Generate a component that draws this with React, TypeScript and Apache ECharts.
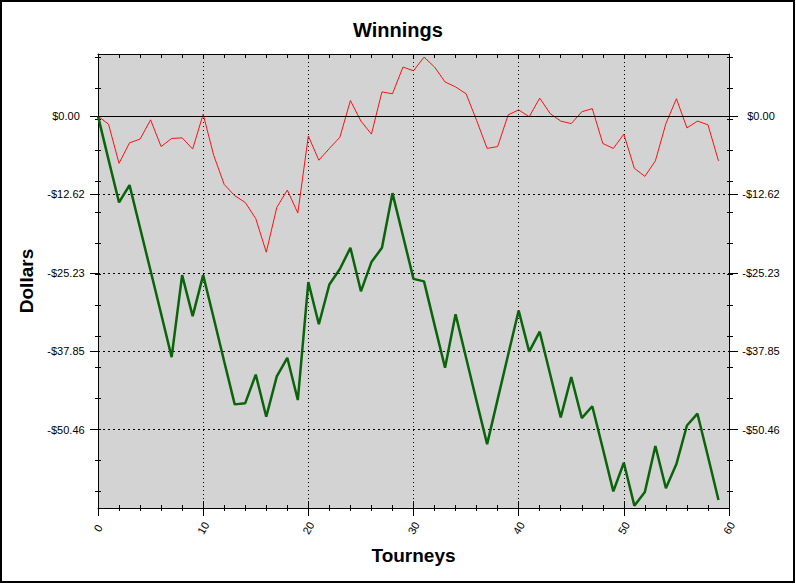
import React, { useEffect, useRef } from 'react';
import * as echarts from 'echarts';

const tourneys = [
  0, 1, 2, 3, 4, 5, 6, 7, 8, 9, 10, 11, 12, 13, 14, 15, 16, 17, 18, 19,
  20, 21, 22, 23, 24, 25, 26, 27, 28, 29, 30, 31, 32, 33, 34, 35, 36, 37, 38, 39,
  40, 41, 42, 43, 44, 45, 46, 47, 48, 49, 50, 51, 52, 53, 54, 55, 56, 57, 58, 59,
];

const redValues = [
  0, -1.3, -7.6, -4.3, -3.7, -0.6, -4.9, -3.6, -3.5, -5.3,
  0.3, -6.3, -11.0, -12.8, -13.9, -16.5, -21.9, -14.7, -11.9, -15.6,
  -3.2, -7.1, -5.2, -3.4, 2.5, -0.8, -2.9, 3.9, 3.6, 7.9,
  7.3, 9.5, 7.9, 5.5, 4.7, 3.6, -0.7, -5.2, -4.9, 0.2,
  1.0, -0.1, 2.9, 0.4, -0.8, -1.2, 0.7, 1.2, -4.4, -5.2,
  -2.9, -8.4, -9.7, -7.2, -1.2, 2.8, -1.9, -0.8, -1.4, -7.2,
];

const greenValues = [
  0, -7.0, -13.9, -11.1, -18.0, -24.9, -31.8, -38.8, -25.6, -32.2,
  -25.6, -32.5, -39.5, -46.4, -46.2, -41.6, -48.4, -41.9, -38.9, -45.7,
  -26.7, -33.5, -27.1, -24.6, -21.2, -28.2, -23.5, -21.2, -12.4, -19.3,
  -26.2, -26.6, -33.6, -40.5, -31.9, -38.9, -45.9, -52.8, -45.6, -38.4,
  -31.3, -37.9, -34.7, -41.6, -48.5, -42.0, -48.6, -46.7, -53.5, -60.4,
  -55.8, -62.7, -60.5, -53.1, -59.9, -56.0, -49.8, -47.9, -54.8, -61.8,
];

const yLabelValues = [0, -12.616, -25.232, -37.848, -50.464];
const yMinorTicks = [
  9.54, 4.54, -0.46, -5.46, -10.46, -15.46, -20.46, -25.46,
  -30.46, -35.46, -40.46, -45.46, -50.46, -55.46, -60.46,
];

const Y_MIN = -63.08;
const Y_MAX = 10;
const Y_STEP = 12.616;

const FONT = 'Arial, "Liberation Sans", sans-serif';

const fmtDollar = (v: number) => {
  if (v < -60 || v > 5) return '';
  const a = Math.abs(v) < 1e-6 ? 0 : v;
  return (a < 0 ? '-' : '') + '$' + Math.abs(a).toFixed(2);
};

const hidden = { show: false };

function yTickAxis(position: 'left' | 'right', offset: number, length: number, values: number[]) {
  return {
    type: 'value',
    position,
    offset,
    min: Y_MIN,
    max: Y_MAX,
    interval: Y_STEP,
    axisLine: { show: false, onZero: false },
    axisTick: { show: true, length, customValues: values, lineStyle: { color: '#000', width: 1 } },
    axisLabel: hidden,
    splitLine: hidden,
  };
}

function xTickAxis(position: 'top' | 'bottom', offset: number, length: number, interval: number, inside: boolean, line: boolean) {
  return {
    type: 'value',
    position,
    offset,
    min: 0,
    max: 60,
    interval,
    axisLine: { show: line, onZero: false, lineStyle: { color: '#000', width: 1 } },
    axisTick: { show: true, inside, length, lineStyle: { color: '#000', width: 1 } },
    axisLabel: hidden,
    splitLine: hidden,
  };
}

const labelStyle = { color: '#000', fontSize: 11, fontFamily: FONT };

const option = {
  animation: false,
  backgroundColor: '#ffffff',
  title: {
    text: 'Winnings',
    left: 'center',
    top: 15,
    textStyle: { fontSize: 20, fontWeight: 'bold', fontFamily: FONT, color: '#000' },
  },
  graphic: [
    {
      type: 'rect',
      silent: true,
      z: 100,
      shape: { x: 1, y: 1, width: 793, height: 581 },
      style: { fill: 'none', stroke: '#000', lineWidth: 2 },
    },
  ],
  grid: {
    left: 98,
    top: 54,
    right: 67,
    bottom: 76,
    show: true,
    backgroundColor: '#d3d3d3',
    borderWidth: 0,
  },
  xAxis: [
    {
      type: 'value',
      position: 'bottom',
      min: 0,
      max: 60,
      interval: 10,
      name: 'Tourneys',
      nameLocation: 'middle',
      nameGap: 38,
      nameTextStyle: { fontSize: 19, fontWeight: 'bold', fontFamily: FONT, color: '#000' },
      axisLine: { show: true, onZero: false, lineStyle: { color: '#000', width: 1 } },
      axisTick: { show: false },
      axisLabel: {
        ...labelStyle,
        rotate: 60,
        align: 'center',
        verticalAlign: 'middle',
        margin: 20,
      },
      splitLine: { show: true, lineStyle: { color: '#000', type: [1, 3], width: 1 } },
    },
    xTickAxis('bottom', -7, 15, 10, false, false),
    xTickAxis('bottom', -3, 6, 2, false, false),
    xTickAxis('top', 0, 4, 2, true, true),
  ],
  yAxis: [
    {
      type: 'value',
      position: 'left',
      min: Y_MIN,
      max: Y_MAX,
      interval: Y_STEP,
      name: 'Dollars',
      nameLocation: 'middle',
      nameGap: 61,
      nameTextStyle: { fontSize: 19, fontWeight: 'bold', fontFamily: FONT, color: '#000' },
      axisLine: { show: true, onZero: false, lineStyle: { color: '#000', width: 1 } },
      axisTick: { show: true, length: 8, customValues: yLabelValues, lineStyle: { color: '#000', width: 1 } },
      axisLabel: { ...labelStyle, customValues: yLabelValues, formatter: fmtDollar, align: 'center', margin: 32 },
      splitLine: { show: true, lineStyle: { color: '#000', type: [2, 3], width: 1 } },
    },
    yTickAxis('left', -3, 6, yMinorTicks),
    {
      type: 'value',
      position: 'right',
      min: Y_MIN,
      max: Y_MAX,
      interval: Y_STEP,
      axisLine: { show: true, onZero: false, lineStyle: { color: '#000', width: 1 } },
      axisTick: { show: true, length: 9, customValues: yLabelValues, lineStyle: { color: '#000', width: 1 } },
      axisLabel: { ...labelStyle, customValues: yLabelValues, formatter: fmtDollar, align: 'center', margin: 32 },
      splitLine: hidden,
    },
    yTickAxis('right', -2, 6, yMinorTicks),
  ],
  series: [
    {
      name: 'Red',
      type: 'line',
      xAxisIndex: 0,
      yAxisIndex: 0,
      data: tourneys.map((t, i) => [t, redValues[i]]),
      symbol: 'none',
      showSymbol: false,
      lineStyle: { color: '#ff1010', width: 1 },
      itemStyle: { color: '#ff1010' },
      z: 3,
      markLine: {
        silent: true,
        symbol: ['none', 'none'],
        label: { show: false },
        lineStyle: { color: '#000', type: 'solid', width: 1 },
        data: [{ yAxis: 0 }],
      },
    },
    {
      name: 'Green',
      type: 'line',
      xAxisIndex: 0,
      yAxisIndex: 0,
      data: tourneys.map((t, i) => [t, greenValues[i]]),
      symbol: 'none',
      showSymbol: false,
      lineStyle: { color: '#0a640a', width: 2.5 },
      itemStyle: { color: '#0a640a' },
      z: 4,
    },
  ],
};

export default function App() {
  const ref = useRef<HTMLDivElement>(null);
  useEffect(() => {
    if (!ref.current) return;
    const chart = echarts.init(ref.current, null, { renderer: 'svg', width: 796, height: 584 });
    chart.setOption(option as any);
    return () => chart.dispose();
  }, []);
  return (
    <div
      ref={ref}
      style={{ position: 'fixed', left: 0, top: 0, width: 796, height: 584, background: '#fff' }}
    />
  );
}
